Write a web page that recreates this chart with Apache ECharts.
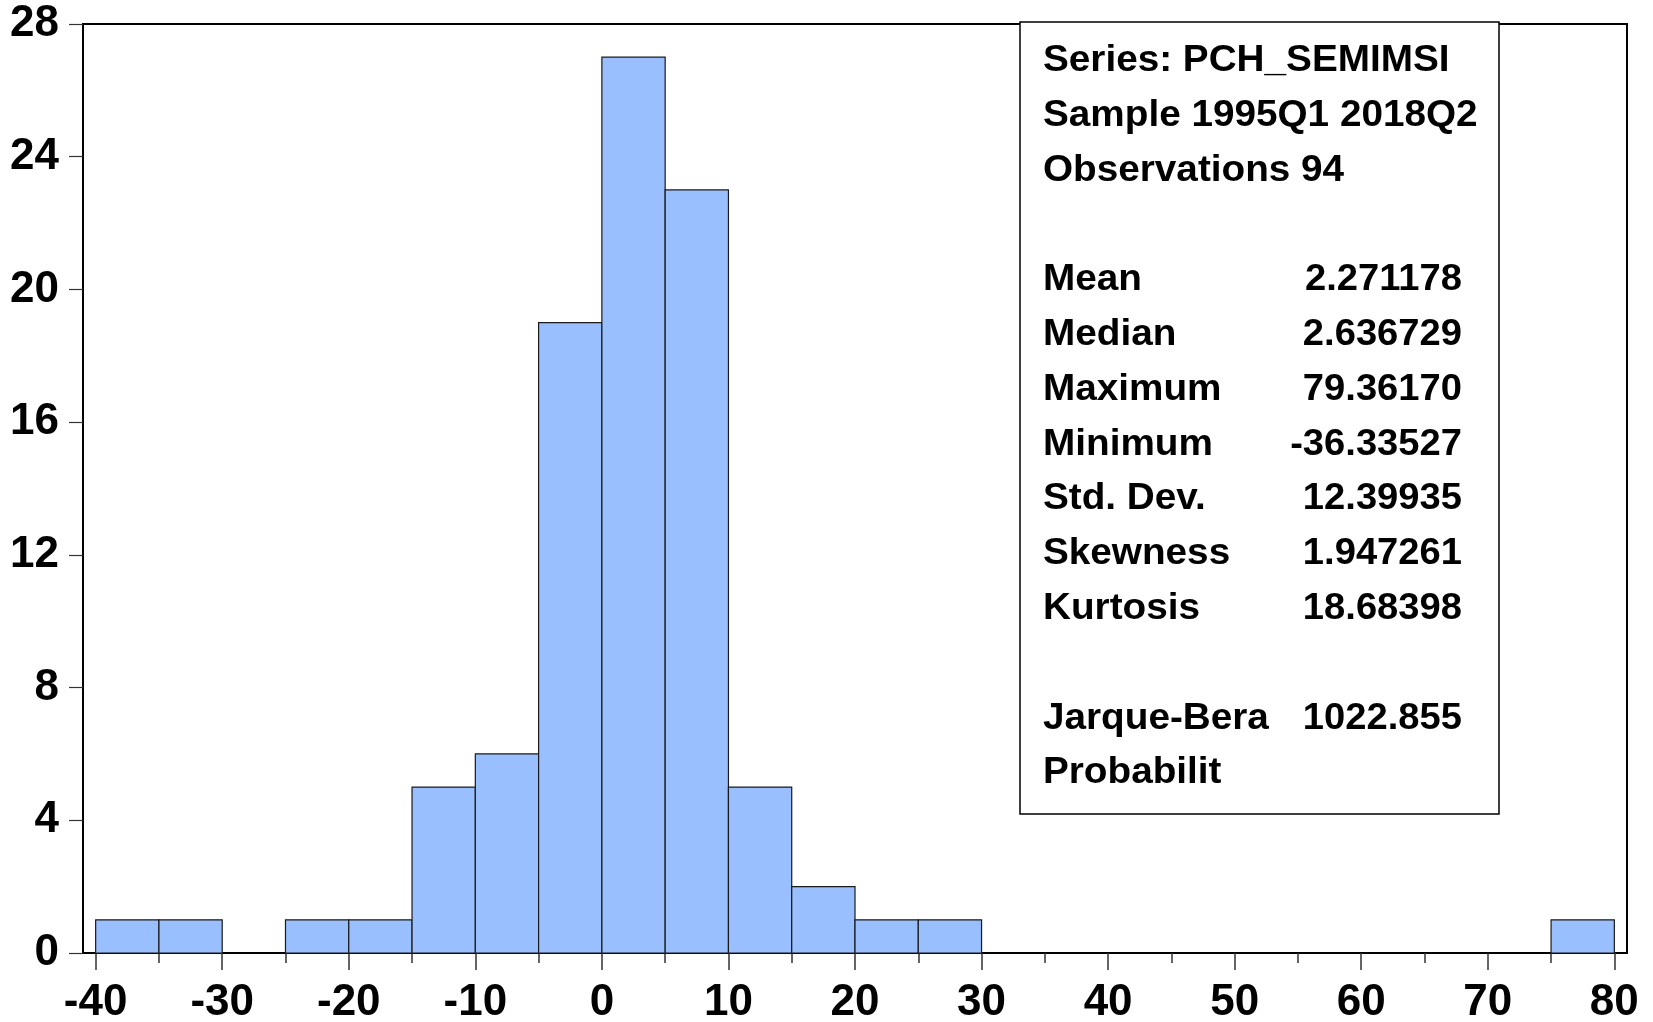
<!DOCTYPE html>
<html>
<head>
<meta charset="utf-8">
<script src="https://cdn.jsdelivr.net/npm/echarts@6/dist/echarts.min.js"></script>
<style>
  html, body { margin: 0; padding: 0; background: #fff; }
  #chart { width: 1653px; height: 1022px; }
</style>
</head>
<body>
<div id="chart"></div>
<script>
// histogram bins (lower edge) and counts
const binLower = [-40, -35, -30, -25, -20, -15, -10, -5, 0, 5, 10, 15, 20, 25, 30, 35, 40, 45, 50, 55, 60, 65, 70, 75];
const binWidth = 5;
const counts = [1, 1, 0, 1, 1, 5, 6, 19, 27, 23, 5, 2, 1, 1, 0, 0, 0, 0, 0, 0, 0, 0, 0, 1];

// axis ticks
const xMajorTicks = [-40, -30, -20, -10, 0, 10, 20, 30, 40, 50, 60, 70, 80];
const xMinorTicks = [-35, -25, -15, -5, 5, 15, 25, 35, 45, 55, 65, 75];

// stats box
const headerLines = ["Series: PCH_SEMIMSI", "Sample 1995Q1 2018Q2", "Observations 94"];
const statLabels = ["Mean", "Median", "Maximum", "Minimum", "Std. Dev.", "Skewness", "Kurtosis"];
const statValues = ["2.271178", "2.636729", "79.36170", "-36.33527", "12.39935", "1.947261", "18.68398"];
const testLabels = ["Jarque-Bera", "Probabilit"];
const testValues = ["1022.855", ""];

const chart = echarts.init(document.getElementById("chart"));

const FONT = "'Liberation Sans', Arial, sans-serif";

// build the text rows for the stats box (blank rows between groups)
const rows = [];
headerLines.forEach((t) => rows.push([t, ""]));
rows.push(null);
statLabels.forEach((t, i) => rows.push([t, statValues[i]]));
rows.push(null);
testLabels.forEach((t, i) => rows.push([t, testValues[i]]));

const boxLeft = 1020, boxTop = 22, boxW = 479, boxH = 792;
const textLeft = 1043, valueRight = 1462;
const firstRowY = 61, rowStep = 54.8;
const textStretch = 1.075; // EViews text is a bit wider than Liberation Sans

const graphics = [
  {
    type: "rect",
    z: 100,
    shape: { x: boxLeft, y: boxTop, width: boxW, height: boxH },
    style: { fill: "#fff", stroke: "#000", lineWidth: 1.5 },
  },
];
rows.forEach((r, i) => {
  if (!r) return;
  const y = firstRowY + i * rowStep;
  graphics.push({
    type: "text",
    z: 101,
    x: textLeft,
    y: y,
    scaleX: textStretch,
    style: {
      text: r[0],
      font: "bold 36px " + FONT,
      fill: "#000",
      verticalAlign: "middle",
      align: "left",
    },
  });
  if (r[1]) {
    graphics.push({
      type: "text",
      z: 101,
      x: valueRight,
      y: y,
      scaleX: 1.06,
      style: {
        text: r[1],
        font: "bold 36px " + FONT,
        fill: "#000",
        verticalAlign: "middle",
        align: "right",
      },
    });
  }
});

const barData = binLower.map((x, i) => [x, x + binWidth, counts[i]]);

const axisFont = {
  color: "#000",
  fontSize: 44,
  fontWeight: "bold",
  fontFamily: FONT,
};

const option = {
  animation: false,
  backgroundColor: "#fff",
  grid: {
    left: 83,
    right: 26,
    top: 24,
    bottom: 69,
    outerBoundsMode: "none",
    containLabel: false,
    show: true,
    borderColor: "#000",
    borderWidth: 2,
    backgroundColor: "transparent",
  },
  xAxis: [
    {
      type: "value",
      min: -41,
      max: 81,
      position: "bottom",
      splitLine: { show: false },
      axisLine: { show: true, onZero: false, lineStyle: { color: "#000", width: 2 } },
      axisTick: {
        show: true,
        length: 17,
        customValues: xMajorTicks,
        lineStyle: { color: "#333", width: 1.5 },
      },
      axisLabel: Object.assign({ customValues: xMajorTicks, margin: 28 }, axisFont),
    },
    {
      type: "value",
      min: -41,
      max: 81,
      position: "bottom",
      splitLine: { show: false },
      axisLine: { show: false, onZero: false },
      axisTick: {
        show: true,
        length: 10,
        customValues: xMinorTicks,
        lineStyle: { color: "#333", width: 1.5 },
      },
      axisLabel: { show: false },
    },
  ],
  yAxis: {
    type: "value",
    min: 0,
    max: 28,
    interval: 4,
    splitLine: { show: false },
    axisLine: { show: true, onZero: false, lineStyle: { color: "#000", width: 2 } },
    axisTick: { show: true, length: 14, lineStyle: { color: "#333", width: 1.2 } },
    axisLabel: Object.assign({ margin: 24 }, axisFont),
  },
  series: [
    {
      type: "custom",
      xAxisIndex: 0,
      yAxisIndex: 0,
      encode: { x: [0, 1], y: 2 },
      data: barData,
      renderItem: (params, api) => {
        const count = api.value(2);
        if (!count) return null;
        const p0 = api.coord([api.value(0), count]);
        const p1 = api.coord([api.value(1), 0]);
        return {
          type: "rect",
          shape: { x: p0[0], y: p0[1], width: p1[0] - p0[0], height: p1[1] - p0[1] },
          style: { fill: "#99BFFF", stroke: "#1a1a1a", lineWidth: 1.2 },
        };
      },
    },
  ],
  graphic: graphics,
};

chart.setOption(option);
</script>
</body>
</html>
